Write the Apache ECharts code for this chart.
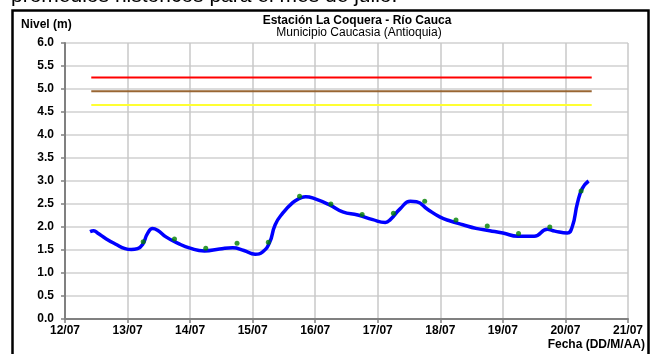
<!DOCTYPE html>
<html>
<head>
<meta charset="utf-8">
<script src="https://cdn.jsdelivr.net/npm/echarts@6/dist/echarts.min.js"></script>
<style>
html,body{margin:0;padding:0;background:#fff;}
#chart{width:656px;height:354px;}
</style>
</head>
<body>
<div id="chart"></div>
<script>
// Time in day-of-month (July), level in metres
var lineTimes = [12.40,12.46,12.52,12.66,12.82,12.96,13.06,13.16,13.24,13.32,13.40,13.48,13.62,13.80,14.00,14.23,14.47,14.68,14.86,15.04,15.16,15.27,15.36,15.48,15.64,15.75,15.85,16.00,16.23,16.44,16.68,16.92,17.12,17.20,17.36,17.52,17.62,17.80,17.99,18.16,18.36,18.57,18.79,19.00,19.24,19.50,19.71,19.83,20.03,20.11,20.19,20.27,20.37];
var lineLevels = [1.90,1.92,1.87,1.74,1.62,1.53,1.51,1.53,1.62,1.86,1.97,1.93,1.78,1.65,1.54,1.48,1.52,1.55,1.49,1.41,1.46,1.66,2.05,2.30,2.53,2.62,2.66,2.61,2.48,2.33,2.26,2.16,2.10,2.16,2.40,2.56,2.55,2.38,2.22,2.13,2.05,1.97,1.92,1.87,1.80,1.80,1.95,1.91,1.87,2.01,2.51,2.84,3.00];
var obsTimes = [13.25,13.75,14.25,14.75,15.25,15.75,16.25,16.75,17.25,17.75,18.25,18.75,19.25,19.75,20.25];
var obsLevels = [1.68,1.74,1.54,1.645,1.67,2.67,2.50,2.27,2.30,2.56,2.15,2.02,1.86,2.00,2.78];
var thresholdStart = 12.42;
var thresholdEnd = 20.42;
var thresholdRed = 5.25;
var thresholdBrown = 4.95;
var thresholdYellow = 4.65;
var xTickLabels = ['12/07','13/07','14/07','15/07','16/07','17/07','18/07','19/07','20/07','21/07'];

function pairs(xs, ys){ return xs.map(function(x,i){ return [x, ys[i]]; }); }

var chart = echarts.init(document.getElementById('chart'), null, {renderer:'canvas'});
var FONT = 'Arial, "Liberation Sans", sans-serif';
var option = {
  animation: false,
  backgroundColor: '#ffffff',
  title: {
    text: 'promedios históricos para el mes de julio.',
    left: 11, top: -14, padding: 0,
    textStyle: {fontSize: 21, fontWeight: 'normal', fontFamily: FONT, color: '#000'}
  },
  grid: {left: 65, right: 28, top: 43, bottom: 35},
  xAxis: {
    type: 'value', min: 12, max: 21, interval: 1,
    axisLine: {show: true, onZero: false, lineStyle: {color: '#808080', width: 2}},
    axisTick: {show: true, length: 4, lineStyle: {color: '#808080', width: 1.5}},
    axisLabel: {margin: 6, color: '#000', fontFamily: FONT, fontWeight: 'bold', fontSize: 12,
      formatter: function(v){ return xTickLabels[Math.round(v) - 12]; }},
    splitLine: {show: true, lineStyle: {color: '#c8c8c8', width: 1.5}}
  },
  yAxis: {
    type: 'value', min: 0, max: 6, interval: 0.5,
    axisLine: {show: true, onZero: false, lineStyle: {color: '#808080', width: 2}},
    axisTick: {show: true, length: 4, lineStyle: {color: '#808080', width: 1.5}},
    axisLabel: {margin: 11, color: '#000', fontFamily: FONT, fontWeight: 'bold', fontSize: 12,
      formatter: function(v){ return v.toFixed(1); }},
    splitLine: {show: true, lineStyle: {color: '#dcdcdc', width: 2}}
  },
  series: [
    {type: 'line', data: [[thresholdStart, thresholdRed],[thresholdEnd, thresholdRed]], symbol: 'none',
      lineStyle: {color: '#ff0000', width: 2}, silent: true},
    {type: 'line', data: [[thresholdStart, thresholdBrown],[thresholdEnd, thresholdBrown]], symbol: 'none',
      lineStyle: {color: '#996633', width: 2}, silent: true},
    {type: 'line', data: [[thresholdStart, thresholdYellow],[thresholdEnd, thresholdYellow]], symbol: 'none',
      lineStyle: {color: '#ffff33', width: 2}, silent: true},
    {type: 'line', data: pairs(lineTimes, lineLevels), symbol: 'none', smooth: 0.5,
      lineStyle: {color: '#0000ff', width: 3.5}},
    {type: 'scatter', data: pairs(obsTimes, obsLevels), symbol: 'circle', symbolSize: 5,
      itemStyle: {color: '#008000'}, z: 5}
  ],
  graphic: [
    {type: 'rect', shape: {x: 12.5, y: 10.5, width: 636, height: 360}, style: {fill: null, stroke: '#000', lineWidth: 2.5}, silent: true},
    {type: 'text', x: 357, y: 20.5, style: {text: 'Estación La Coquera - Río Cauca', fontSize: 12, fontWeight: 'bold', fontFamily: FONT, fill: '#000', align: 'center', verticalAlign: 'middle'}},
    {type: 'text', x: 359, y: 33, style: {text: 'Municipio Caucasia (Antioquia)', fontSize: 12, fontFamily: FONT, fill: '#000', align: 'center', verticalAlign: 'middle'}},
    {type: 'text', x: 21, y: 25, style: {text: 'Nivel (m)', fontSize: 12, fontWeight: 'bold', fontFamily: FONT, fill: '#000', align: 'left', verticalAlign: 'middle'}},
    {type: 'text', x: 645, y: 345, style: {text: 'Fecha (DD/M/AA)', fontSize: 12, fontWeight: 'bold', fontFamily: FONT, fill: '#000', align: 'right', verticalAlign: 'middle'}}
  ]
};
chart.setOption(option);
</script>
</body>
</html>
